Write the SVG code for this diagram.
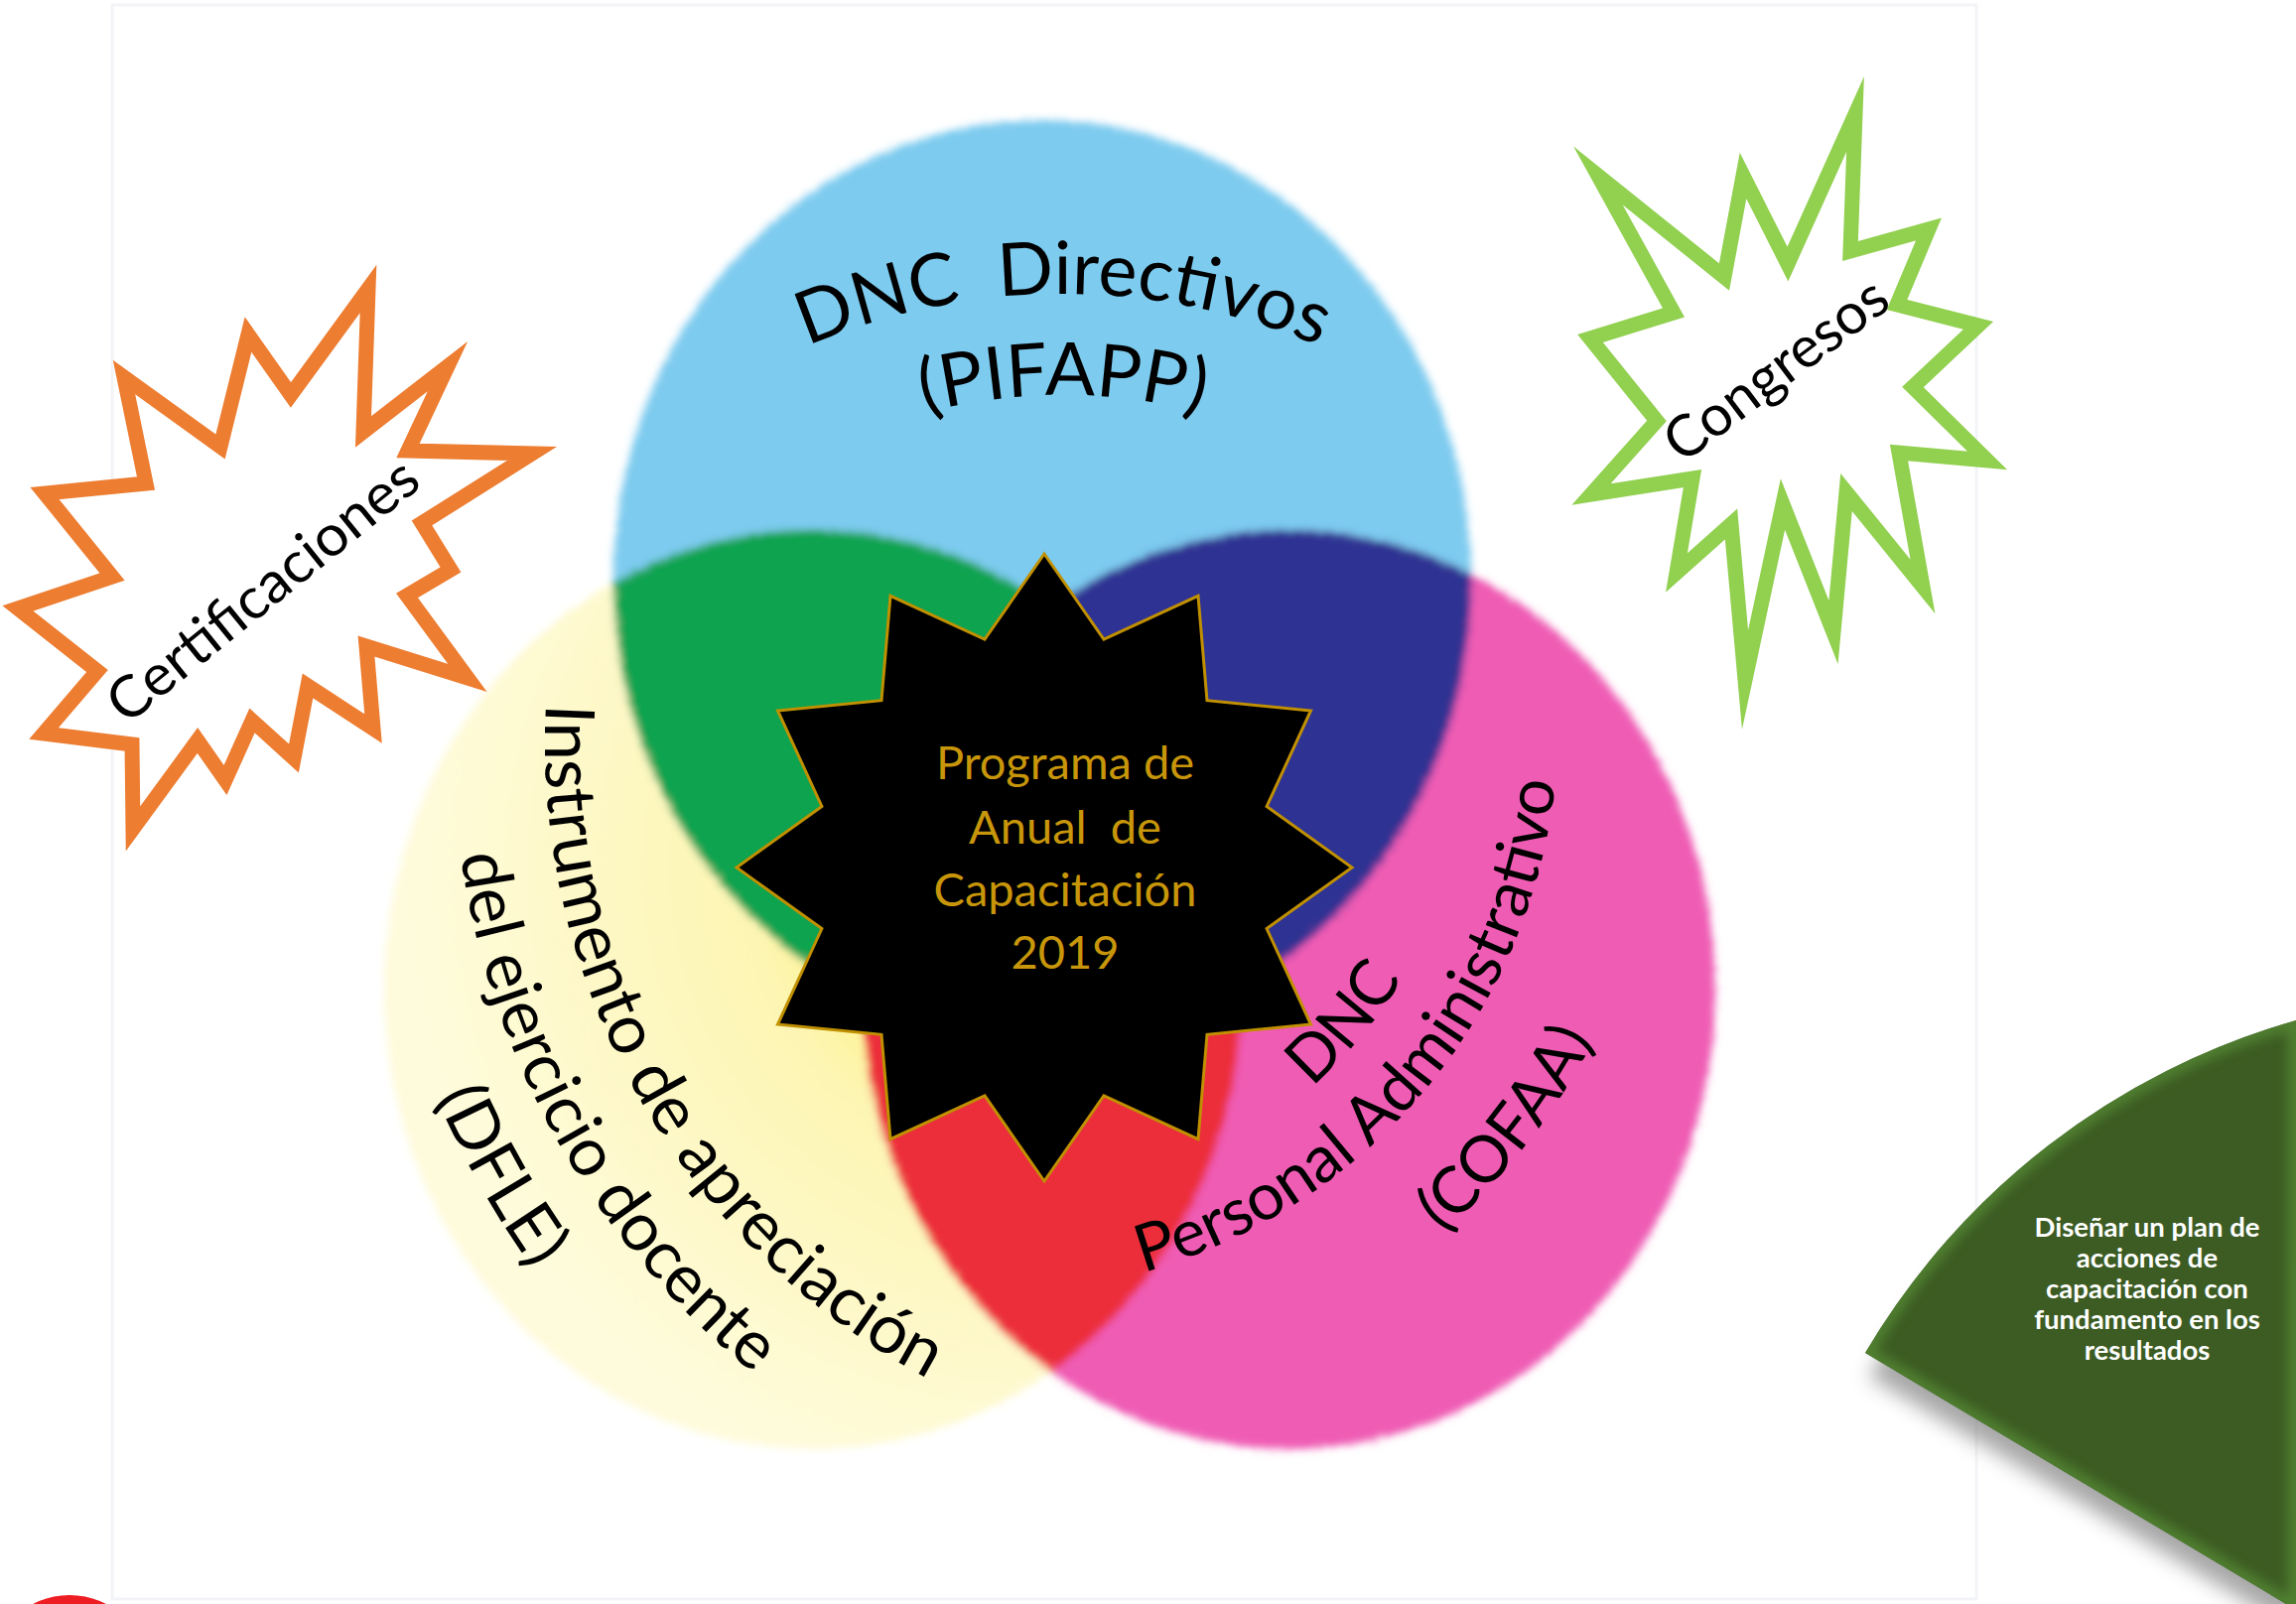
<svg xmlns="http://www.w3.org/2000/svg" width="2313" height="1616" viewBox="0 0 2313 1616">
<defs>
<style>
.t { font-family: Lato, "Liberation Sans", sans-serif; fill:#000; white-space:pre; }
.burst { fill:#fff; stroke-width:15; stroke-linejoin:miter; stroke-miterlimit:30; }
.st { font-family: Lato, "Liberation Sans", sans-serif; fill:#c8960a; font-size:47px; text-anchor:middle; white-space:pre; }
.nt { font-family: Lato, "Liberation Sans", sans-serif; fill:#fff; font-weight:bold; font-size:27.5px; text-anchor:middle; }
</style>
<filter id="fuzz" filterUnits="userSpaceOnUse" x="0" y="0" width="2313" height="1616">
  <feTurbulence type="fractalNoise" baseFrequency="0.9" numOctaves="2" seed="3" result="n"/>
  <feDisplacementMap in="SourceGraphic" in2="n" scale="20" xChannelSelector="R" yChannelSelector="G" result="d"/>
  <feGaussianBlur in="d" stdDeviation="3"/>
</filter>
<filter id="shb" x="-20%" y="-20%" width="140%" height="140%"><feGaussianBlur stdDeviation="10"/></filter>
<filter id="glow" x="-20%" y="-20%" width="140%" height="140%"><feGaussianBlur stdDeviation="6"/></filter>
<radialGradient id="yg" gradientUnits="userSpaceOnUse" cx="1052" cy="874" r="640">
  <stop offset="0.28" stop-color="#fff27a"/>
  <stop offset="0.46" stop-color="#fdf5b2"/>
  <stop offset="1" stop-color="#fefbdc"/>
</radialGradient>
<clipPath id="cY"><ellipse cx="819" cy="997" rx="432" ry="463"/></clipPath>
<clipPath id="cP"><ellipse cx="1298" cy="997" rx="430" ry="463"/></clipPath>
<path id="gshape" d="M1879,1363 A740,740 0 0 1 2313,1028 L2313,1622 Z"/>
<clipPath id="cG"><use href="#gshape"/></clipPath>
<path id="arcB1" d="M 650 449.2 A 655 655 0 0 1 1492 449.2" fill="none"/>
<path id="arcB2" d="M 715.5 527.4 A 553 553 0 0 1 1426.5 527.4" fill="none"/>
<path id="arcY1" d="M 595 492.4 A 727 727 0 0 0 1143.5 1461.9" fill="none"/>
<path id="arcY2" d="M 507.9 459.8 A 820 820 0 0 0 1126.6 1553.3" fill="none"/>
<path id="arcY3" d="M 423.6 428.3 A 910 910 0 0 0 1110.2 1641.8" fill="none"/>
<path id="arcP1" d="M 908.6 1212.5 A 492 492 0 0 0 1456.3 559.7" fill="none"/>
<path id="arcP2" d="M 894 1295.2 A 576 576 0 0 0 1535.3 531" fill="none"/>
<path id="arcP3" d="M 897 1405 A 680 680 0 0 0 1629 469" fill="none"/>
</defs>

<rect width="2313" height="1616" fill="#fff"/>
<rect x="113" y="5" width="1878" height="1606" fill="none" stroke="#f3f4f7" stroke-width="3"/>

<g id="connectors"></g>

<g id="venn" filter="url(#fuzz)">
  <g id="set-yellow"><ellipse cx="819" cy="997" rx="432" ry="463" fill="url(#yg)"/></g>
  <g id="set-blue"><ellipse cx="1050" cy="584" rx="432" ry="463" fill="#7dcbef"/></g>
  <g id="set-pink"><ellipse cx="1298" cy="997" rx="430" ry="463" fill="#ef5cb4"/></g>
  <g id="overlap-green"><ellipse cx="1050" cy="584" rx="432" ry="463" fill="#0aa34f" clip-path="url(#cY)"/></g>
  <g id="overlap-navy"><ellipse cx="1050" cy="584" rx="432" ry="463" fill="#2e3192" clip-path="url(#cP)"/></g>
  <g id="overlap-red"><ellipse cx="819" cy="997" rx="432" ry="463" fill="#ec2f3b" clip-path="url(#cP)"/></g>
</g>

<g id="label-blue" class="t">
  <text font-size="74" xml:space="preserve"><textPath href="#arcB1" startOffset="50%" text-anchor="middle">DNC  Directivos</textPath></text>
  <text font-size="74"><textPath href="#arcB2" startOffset="50%" text-anchor="middle">(PIFAPP)</textPath></text>
</g>

<g id="label-yellow" class="t">
  <text font-size="69"><textPath href="#arcY1" startOffset="50%" text-anchor="middle">Instrumento de apreciación</textPath></text>
  <text font-size="68"><textPath href="#arcY2" startOffset="50%" text-anchor="middle">del ejercicio docente</textPath></text>
  <text font-size="68"><textPath href="#arcY3" startOffset="50%" text-anchor="middle">(DFLE)</textPath></text>
</g>

<g id="label-pink" class="t">
  <text font-size="65"><textPath href="#arcP1" startOffset="50%" text-anchor="middle">DNC</textPath></text>
  <text font-size="66"><textPath href="#arcP2" startOffset="50%" text-anchor="middle">Personal Administrativo</textPath></text>
  <text font-size="65"><textPath href="#arcP3" startOffset="50%" text-anchor="middle">(COFAA)</textPath></text>
</g>

<g id="star-center">
  <polygon fill="#000" stroke="#c09000" stroke-width="3" stroke-linejoin="miter"
    points="1052,558 1112,644.1 1207,600.3 1216,705.7 1320.5,716 1276.1,812.4 1362,874 1276.1,935.6 1320.5,1032 1216,1042.3 1207,1147.7 1112,1103.9 1052,1190 992,1103.9 897,1147.7 888,1042.3 783.5,1032 827.9,935.6 742,874 827.9,812.4 783.5,716 888,705.7 897,600.3 992,644.1"/>
  <text class="st" x="1073" y="785">Programa de</text>
  <text class="st" x="1073" y="850" xml:space="preserve">Anual  de</text>
  <text class="st" x="1073" y="913">Capacitación</text>
  <text class="st" x="1073" y="976">2019</text>
</g>

<g id="burst-certificaciones">
  <polygon class="burst" stroke="#ed7d31"
    points="371,291 366,435 451,369 411,454 536,457 425,527 454,574 410,600 471,683 369,651 376,734 310,691 296,764 254,726 227,786 199,746 134,835 133,750 44,739 98,676 18,613 113,581 45,497 147,487 125,380 222,450 250,337 293,398"/>
  <text class="t" font-size="58" text-anchor="middle" textLength="385" lengthAdjust="spacingAndGlyphs" transform="translate(277,610) rotate(-39)">Certificaciones</text>
</g>

<g id="burst-congresos">
  <polygon class="burst" stroke="#92d050"
    points="1869,115 1864,253 1943,231 1911,307 1993,328 1927,390 2002,464 1913,456 1937,591 1860,496 1847,637 1796,508 1758,685 1744,528 1689,577 1705,482 1603,498 1669,424 1602,341 1686,315 1610,177 1737,279 1756,177 1801,266"/>
  <text class="t" font-size="58" text-anchor="middle" textLength="266" lengthAdjust="spacingAndGlyphs" transform="translate(1801,388) rotate(-37)">Congresos</text>
</g>

<g id="note-green">
  <use href="#gshape" transform="translate(4,24)" fill="#6e6e6e" opacity="0.6" filter="url(#shb)"/>
  <use href="#gshape" fill="#3c5c23"/>
  <g clip-path="url(#cG)"><use href="#gshape" fill="none" stroke="#568a34" stroke-width="16" opacity="0.8" filter="url(#glow)"/></g>
  <text class="nt" x="2163" y="1246">Diseñar un plan de</text>
  <text class="nt" x="2163" y="1277">acciones de</text>
  <text class="nt" x="2163" y="1308">capacitación con</text>
  <text class="nt" x="2163" y="1339">fundamento en los</text>
  <text class="nt" x="2163" y="1370">resultados</text>
</g>

<g id="red-dot"><circle cx="70" cy="1687" r="80" fill="#ee1d23"/></g>
</svg>
